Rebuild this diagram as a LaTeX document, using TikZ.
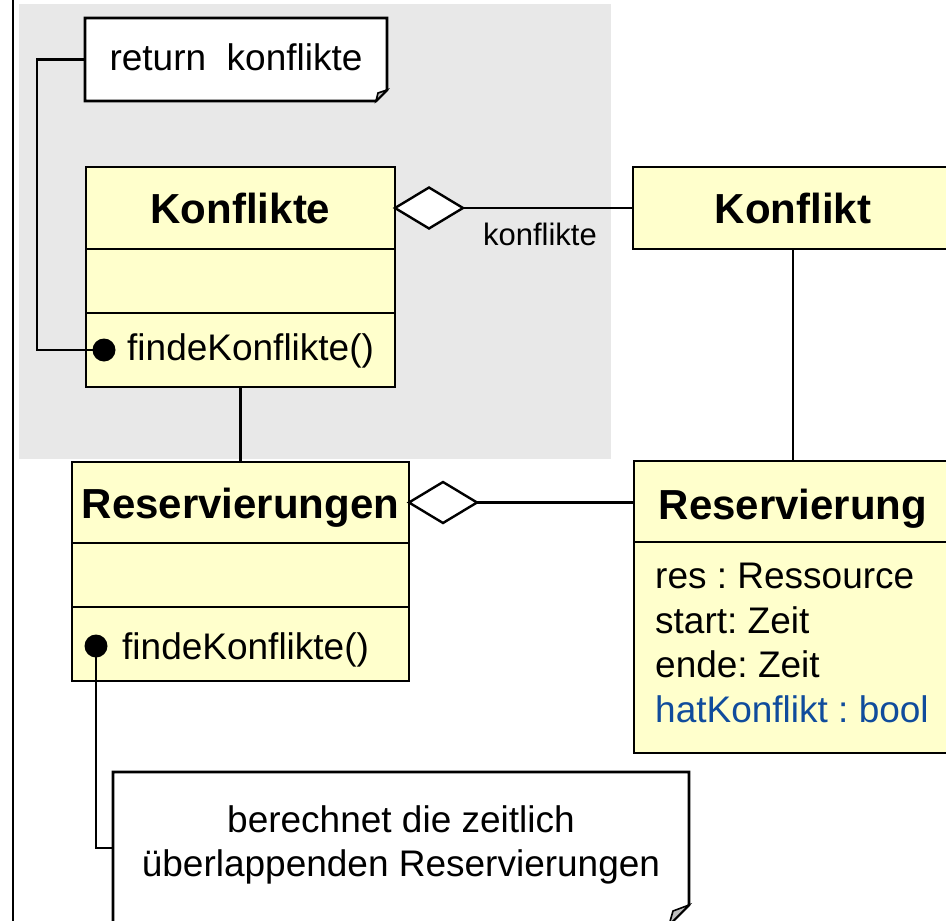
\documentclass[tikz,border=0pt]{standalone}
\usepackage{fontspec}
\setmainfont{Liberation Sans}
\usetikzlibrary{shapes.geometric}
\definecolor{clsyellow}{RGB}{255,255,204}
\definecolor{bggray}{RGB}{232,232,232}
\definecolor{attrblue}{RGB}{16,76,156}
\definecolor{flapgray}{RGB}{190,190,190}
\frenchspacing
\begin{document}
\begin{tikzpicture}[x=1pt,y=-1pt,
  comp/.style={draw, line width=2.8pt, fill=clsyellow, anchor=north west, inner sep=0pt, outer sep=0pt},
  title/.style={font=\fontsize{42}{50}\selectfont\bfseries, anchor=base, inner sep=0pt},
  body/.style={font=\fontsize{37}{44}\selectfont, anchor=base west, inner sep=0pt},
  conn/.style={line width=2.4pt},
  agg/.style={diamond, draw, fill=white, line width=2.4pt, minimum width=68pt, minimum height=41pt, inner sep=0pt, outer sep=0pt, anchor=west},
  dot/.style={circle, fill=black, inner sep=0pt, outer sep=0pt, minimum size=23pt},
  notebox/.style={inner sep=0pt, outer sep=0pt, anchor=north west},
  notepath/.style={draw, line width=2.6pt, fill=white},
  flap/.style={draw, line width=1.6pt, fill=flapgray},
]
\useasboundingbox (0,0) rectangle (946,921);
\clip (0,0) rectangle (946,921);
% background
\fill[bggray] (19,4) rectangle (611,459);
\draw[line width=2.4pt] (12.7,-5) -- (12.7,930);

% class Konflikte
\node[comp, minimum width=309pt, minimum height=82pt] (kH) at (86,167) {};
\node[comp, minimum width=309pt, minimum height=64pt] (kA) at (86,249) {};
\node[comp, minimum width=309pt, minimum height=74pt] (kM) at (86,313) {};
\node[title] (kT) at (240.5,223) {Konflikte};
\node[body] (kF) at (127,360) {findeKonflikte()};

% class Konflikt
\node[comp, minimum width=320pt, minimum height=82pt] (kfH) at (633,167) {};
\node[title] (kfT) at (793,223) {Konflikt};

% class Reservierungen
\node[comp, minimum width=337pt, minimum height=81pt] (rH) at (72,462) {};
\node[comp, minimum width=337pt, minimum height=64pt] (rA) at (72,543) {};
\node[comp, minimum width=337pt, minimum height=74pt] (rM) at (72,607) {};
\node[title] (rT) at (240.5,518) {Reservierungen};
\node[body] (rF) at (122,659) {findeKonflikte()};

% class Reservierung
\node[comp, minimum width=320pt, minimum height=81pt] (zH) at (634,461) {};
\node[comp, minimum width=320pt, minimum height=211pt] (zA) at (634,542) {};
\node[title] (zT) at (793,519) {Reservierung};
\node[body] (z1) at (655,588) {res : Ressource};
\node[body] (z2) at (655,633) {start: Zeit};
\node[body] (z3) at (655,677) {ende: Zeit};
\node[body, text=attrblue] (z4) at (655,722) {hatKonflikt : bool};

% associations
\node[agg] (g1) at (kH.east) {};
\draw[conn] (g1.east) -- (kfH.west);
\node[font=\fontsize{31}{37}\selectfont, anchor=base, inner sep=0pt] (lbl) at (540,245) {konflikte};
\node[agg] (g2) at (rH.east) {};
\draw[conn] (g2.east) -- (g2.east -| zH.west);
\draw[conn] (kM.south) -- (rH.north);
\draw[conn] (kfH.south) -- (kfH.south |- zH.north);

% note 1
\node[notebox, minimum width=302pt, minimum height=83pt] (n1) at (85,18) {};
\draw[notepath] (n1.north west) -- (n1.north east) -- ([yshift=11pt]n1.south east) -- ([xshift=-11pt]n1.south east) -- (n1.south west) -- cycle;
\draw[flap] ([yshift=11pt]n1.south east) -- ([xshift=-11pt]n1.south east) -- ([xshift=-9pt,yshift=8pt]n1.south east) -- cycle;
\node[body, anchor=base] (n1t) at (236,70) {return\ \ konflikte};
\node[dot] (d1) at (104,350) {};
\draw[conn] (n1.west) -- ++(-48,0) |- (d1.center);

% note 2 (its bottom edge lies just below the picture's edge)
\node[notebox, minimum width=576pt, minimum height=153pt] (n2) at (113,772) {};
\draw[notepath] (n2.north west) -- (n2.north east) -- ([yshift=20pt]n2.south east) -- ([xshift=-20pt]n2.south east) -- (n2.south west) -- cycle;
\draw[flap] ([yshift=20pt]n2.south east) -- ([xshift=-20pt]n2.south east) -- ([xshift=-16pt,yshift=14pt]n2.south east) -- cycle;
\node[body, anchor=base] (n2a) at (401,832) {berechnet die zeitlich};
\node[body, anchor=base] (n2b) at (401,876) {überlappenden Reservierungen};
\node[dot] (d2) at (96,646) {};
\coordinate (c2) at (113,848);
\draw[conn] (d2.center) |- (c2);
\end{tikzpicture}
\end{document}
